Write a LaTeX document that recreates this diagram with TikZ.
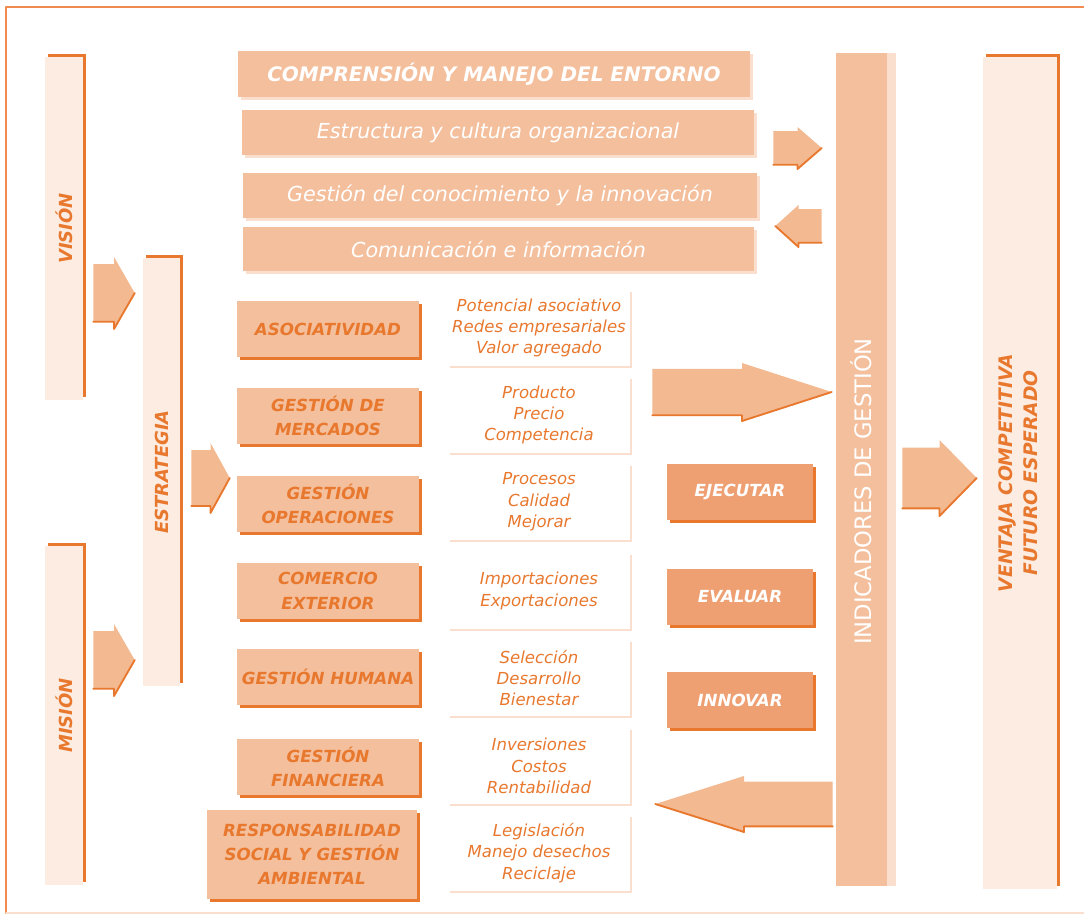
\documentclass[tikz,border=0pt]{standalone}
\usepackage{fontspec}
\setmainfont{DejaVu Sans}
\usetikzlibrary{shadows,calc}
\definecolor{naranja}{HTML}{E8782E}
\definecolor{durazno}{HTML}{F4BF9C}
\definecolor{duraznoclaro}{HTML}{FDECE2}
\definecolor{marco}{HTML}{F08C50}
\definecolor{accion}{HTML}{EEA073}
\definecolor{flecha}{HTML}{F3B991}
\definecolor{sombra}{HTML}{FADFCF}
\def\px{0.75pt}
% block arrow: start, end, half height (px)
\newcommand{\fatarrow}[3]{%
  \fill[flecha] let \p1=(#1), \p2=(#2) in
    (\x1,{\y1+0.8*#3*\px}) -- ({(\x1+\x2)/2},{\y1+0.8*#3*\px}) -- ({(\x1+\x2)/2},{\y1+#3*\px})
    -- (\x2,\y1) -- ({(\x1+\x2)/2},{\y1-#3*\px}) -- ({(\x1+\x2)/2},{\y1-0.8*#3*\px})
    -- (\x1,{\y1-0.8*#3*\px}) -- cycle;
  \draw[naranja, line width=1.4pt] let \p1=(#1), \p2=(#2) in
    (\x1,{\y1-0.8*#3*\px}) -- ({(\x1+\x2)/2},{\y1-0.8*#3*\px}) -- ({(\x1+\x2)/2},{\y1-#3*\px}) -- (\x2,\y1);}

\begin{document}
\begin{tikzpicture}[x=0.75pt, y=-0.75pt, line join=round, line cap=round,
	wh/.style 2 args={minimum width=#1*\px, minimum height=#2*\px, inner sep=0pt},
	franja/.style={fill=duraznoclaro, copy shadow={shadow xshift=2.2pt, shadow yshift=2.2pt, fill=naranja, draw=none},
		text=naranja, font=\fontsize{13.5}{19}\selectfont\bfseries\itshape},
	banda/.style={fill=durazno, copy shadow={shadow xshift=2pt, shadow yshift=-2pt, fill=sombra, draw=none},
		text=white, font=\fontsize{15.5}{18}\selectfont\itshape},
	tema/.style={fill=durazno, copy shadow={shadow xshift=2.2pt, shadow yshift=-2.2pt, fill=naranja, draw=none},
		text=naranja, align=center, wh={182}{56}, font=\fontsize{12.5}{18.5}\selectfont\bfseries\itshape},
	detalle/.style={fill=white, copy shadow={shadow xshift=1.8pt, shadow yshift=-1.8pt, fill=sombra, draw=none},
		text=naranja, align=center, wh={182}{76}, font=\fontsize{12.4}{16}\selectfont\itshape},
	accionbox/.style={fill=accion, copy shadow={shadow xshift=2.6pt, shadow yshift=-2.6pt, fill=naranja, draw=none},
		text=white, wh={146}{56}, font=\fontsize{12.5}{15}\selectfont\bfseries\itshape}]
	\useasboundingbox (0,0) rectangle (1084,918);
	\draw[marco, line width=1.6pt] (6,913) -- (6,7) -- (1084,7);
	\draw[sombra, line width=0.8pt] (6,913) -- (1084,913);

	\node[franja, wh={38}{343}] (vision) at (64,228.5) {\rotatebox{90}{VISIÓN}};
	\node[franja, wh={38}{339}] (mision) at (64,715.5) {\rotatebox{90}{MISIÓN}};
	\node[franja, wh={37}{428}] (estrategia) at (161.5,472) {\rotatebox{90}{ESTRATEGIA}};

	\node[banda, wh={512}{46}, font=\fontsize{15}{18}\selectfont\bfseries\itshape] (entorno) at (494,74) {COMPRENSIÓN Y MANEJO DEL ENTORNO};
	\node[banda, wh={512}{45}] (estructura) at (498,132.5) {Estructura y cultura organizacional};
	\node[banda, wh={514}{45}] (conocimiento) at (500,195.5) {Gestión del conocimiento y la innovación};
	\node[banda, wh={511}{44}] (comunicacion) at (498.5,249) {Comunicación e información};

	\node[tema] (asociatividad) at (328,329) {ASOCIATIVIDAD};
	\node[tema] (mercados) at (328,416) {GESTIÓN DE\\MERCADOS};
	\node[tema] (operaciones) at (328,504) {GESTIÓN\\OPERACIONES};
	\node[tema] (comercio) at (328,591) {COMERCIO\\EXTERIOR};
	\node[tema] (humana) at (328,677) {GESTIÓN HUMANA};
	\node[tema] (financiera) at (328,767) {GESTIÓN\\FINANCIERA};
	\node[tema, wh={210}{89}, font=\fontsize{12.5}{18}\selectfont\bfseries\itshape] (ambiental) at (312,854.5) {RESPONSABILIDAD\\SOCIAL Y GESTIÓN\\AMBIENTAL};

	\node[detalle] (d1) at (539,328) {Potencial asociativo\\Redes empresariales\\Valor agregado};
	\node[detalle] (d2) at (539,415) {Producto\\Precio\\Competencia};
	\node[detalle] (d3) at (539,502) {Procesos\\Calidad\\Mejorar};
	\node[detalle] (d4) at (539,591) {Importaciones\\Exportaciones};
	\node[detalle] (d5) at (539,678) {Selección\\Desarrollo\\Bienestar};
	\node[detalle] (d6) at (539,766) {Inversiones\\Costos\\Rentabilidad};
	\node[detalle] (d7) at (539,853) {Legislación\\Manejo desechos\\Reciclaje};

	\node[accionbox] (ejecutar) at (740,492) {EJECUTAR};
	\node[accionbox] (evaluar) at (740,597) {EVALUAR};
	\node[accionbox] (innovar) at (740,700) {INNOVAR};

	\node[fill=durazno, copy shadow={shadow xshift=6.5pt, shadow yshift=0pt, fill=sombra, draw=none}, wh={51}{833},
		text=white, font=\fontsize{17}{20}\selectfont] (indicadores) at (861.5,469.5) {\rotatebox{90}{INDICADORES DE GESTIÓN\hspace*{33pt}}};
	\node[franja, wh={74}{832}, font=\fontsize{14}{19}\selectfont\bfseries\itshape] (ventaja) at (1020,473)
		{\rotatebox{90}{\begin{tabular}{@{}c@{}}VENTAJA COMPETITIVA\\FUTURO ESPERADO\end{tabular}}};

	\fatarrow{[xshift=10*\px]vision.east |- 0,293}{[xshift=-8*\px]estrategia.west |- 0,293}{36}
	\fatarrow{[xshift=10*\px]mision.east |- 0,660}{[xshift=-8*\px]estrategia.west |- 0,660}{36}
	\fatarrow{[xshift=11*\px]estrategia.east |- 0,478}{[xshift=-7*\px]operaciones.west |- 0,478}{35}
	\fatarrow{[xshift=19*\px]estructura.east |- 0,148}{[xshift=-14*\px]indicadores.west |- 0,148}{21}
	\fatarrow{[xshift=-14*\px]indicadores.west |- 0,226}{[xshift=18*\px]conocimiento.east |- 0,226}{21}
	\fatarrow{[xshift=22*\px]d1.east |- 0,392}{[xshift=-4*\px]indicadores.west |- 0,392}{29}
	\fatarrow{[xshift=15*\px]indicadores.east |- 0,478}{[xshift=-6*\px]ventaja.west |- 0,478}{38}
	\fatarrow{[xshift=-3*\px]indicadores.west |- 0,804}{[xshift=25*\px]d6.east |- 0,804}{28}
\end{tikzpicture}
\end{document}
